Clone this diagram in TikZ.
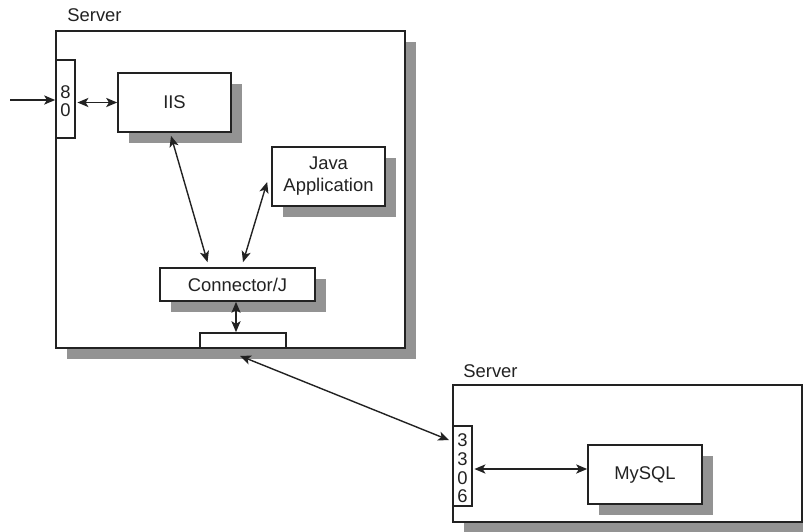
\documentclass[tikz,border=0pt]{standalone}
\usepackage{fontspec}
\setmainfont{Liberation Sans}
\usetikzlibrary{arrows.meta,shadows,calc}
\definecolor{shade}{HTML}{939393}
\definecolor{ink}{HTML}{222222}
\begin{document}
\begin{tikzpicture}[x=0.5pt,y=-0.5pt,
  every node/.style={font=\fontsize{9.2}{9}\selectfont,text=ink},
  box/.style={draw=ink,line width=0.85pt,fill=white,inner sep=0pt,
    drop shadow={shadow xshift=5.5pt,shadow yshift=-5.5pt,fill=shade,opacity=1}},
  plainbox/.style={draw=ink,line width=0.85pt,fill=white,inner sep=0pt},
  lbl/.style={anchor=base west,inner sep=0pt},
  tip/.style={},
  arr/.style={draw=ink,line width=0.7pt,-{Stealth[length=5.5pt,width=4.6pt,inset=1.4pt]}},
  darr/.style={draw=ink,line width=0.7pt,{Stealth[length=5.5pt,width=4.6pt,inset=1.4pt]}-{Stealth[length=5.5pt,width=4.6pt,inset=1.4pt]}}]
\useasboundingbox (0,0) rectangle (803,531);
\fill[white] (0,0) rectangle (803,531);

% first server
\node[box,minimum width=174.5pt,minimum height=158.5pt] (srv1) at (230.5,189.5) {};
\node[lbl] (srv1lbl) at (67,21) {Server};
\node[plainbox,minimum width=9.5pt,minimum height=39pt] (p80) at (65.5,99) {};
\node[align=center,inner sep=0pt,font=\fontsize{9.2}{9}\selectfont] (p80txt) at (65.5,101.5) {8\\0};
\node[box,minimum width=56.5pt,minimum height=29.5pt] (iis) at (174.5,102.5) {IIS};
\node[box,minimum width=56.5pt,minimum height=29.5pt,align=center,
  font=\fontsize{9.2}{11}\selectfont] (java) at (328.5,176.5) {Java\\Application};
\node[box,minimum width=77.5pt,minimum height=16.5pt] (connj) at (237.5,284.5) {Connector/J};
\node[plainbox,minimum width=43pt,minimum height=7.5pt] (bport) at (243,340.5) {};

% second server
\node[box,minimum width=174.5pt,minimum height=68.5pt] (srv2) at (627.5,453.5) {};
\node[lbl] (srv2lbl) at (463,377) {Server};
\node[plainbox,minimum width=9.5pt,minimum height=40pt] (p3306) at (462.5,466) {};
\node[align=center,inner sep=0pt,font=\fontsize{9.2}{9.3}\selectfont] (p3306txt) at (462.5,468.5) {3\\3\\0\\6};
\node[box,minimum width=57pt,minimum height=29.5pt] (mysql) at (645,474.5) {MySQL};

% connectors
\coordinate (inpt) at (10,100);
\draw[arr] (inpt) -- (inpt -| p80.west);
\draw[darr] ([xshift=0.8pt]p80.east |- iis.west) -- (iis.west);
\draw[darr] ([xshift=-1.75pt,yshift=-1.5pt]iis.south) -- ([xshift=-15pt,yshift=2.5pt]connj.north);
\draw[darr] ([xshift=-2pt,yshift=-2.75pt]java.west) -- ([xshift=2.75pt,yshift=2.5pt]connj.north);
\draw[darr] ([xshift=-0.75pt]connj.south) -- ([xshift=-0.75pt]connj.south |- bport.north);
\draw[darr] ([xshift=-1.5pt,yshift=-3.5pt]bport.south) -- ([xshift=-1.5pt,yshift=-7.5pt]p3306.north west);
\coordinate (myin) at ([yshift=2.75pt]mysql.west);
\draw[darr] ([xshift=0.8pt]p3306.east |- myin) -- (myin);
\end{tikzpicture}
\end{document}
